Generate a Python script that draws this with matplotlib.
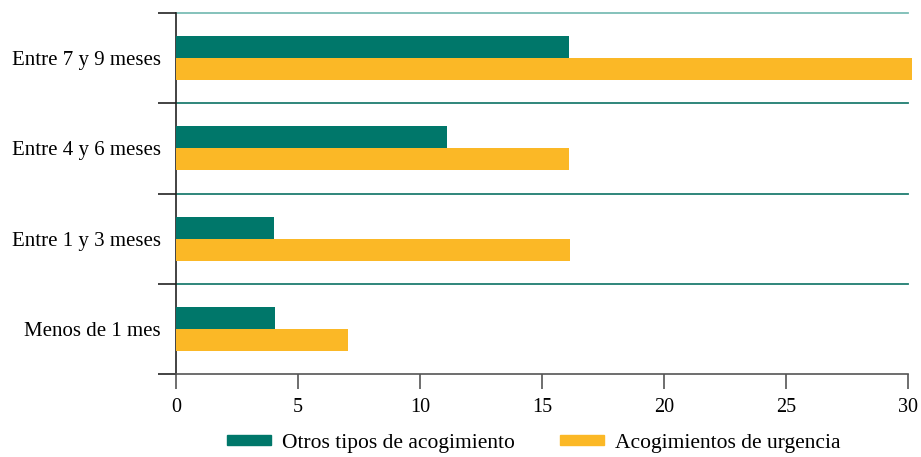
import matplotlib
matplotlib.use("Agg")
import matplotlib.pyplot as plt
import numpy as np
from matplotlib.patches import Patch

categories = ["Menos de 1 mes", "Entre 1 y 3 meses", "Entre 4 y 6 meses", "Entre 7 y 9 meses"]
otros = [4.05, 4.0, 11.1, 16.1]
urgencia = [7.05, 16.15, 16.1, 30.15]
series_names = ["Otros tipos de acogimiento", "Acogimientos de urgencia"]
xticks = [0, 5, 10, 15, 20, 25, 30]

green = "#00776A"
orange = "#FBB826"

plt.rcParams["font.family"] = ["Liberation Serif", "DejaVu Serif"]

fig = plt.figure(figsize=(9.21, 4.57), dpi=100)
ax = fig.add_axes([176/921, (457-374)/457, (908-176)/921, (374-13)/457])

y = np.arange(len(categories))
h = 0.245
b1 = ax.barh(y + h/2, otros, height=h, color=green, zorder=3)
b2 = ax.barh(y - h/2, urgencia, height=h, color=orange, zorder=3)
for r in list(b1) + list(b2):
    r.set_clip_on(False)

ax.set_xlim(0, 30)
ax.set_ylim(-0.5, len(categories) - 0.5)

# boundary gridlines
for yb in np.arange(0.5, len(categories) + 0.5, 1.0):
    col = "#7BBDB5" if yb == len(categories) - 0.5 else "#1F7D71"
    ax.axhline(yb, color=col, lw=1.3, zorder=1, clip_on=False)

ax.set_yticks(y)
ax.set_yticklabels(categories, fontsize=15)
ax.set_yticks(np.arange(-0.5, len(categories), 1.0), minor=True)
ax.tick_params(axis="y", which="major", length=0, pad=11)
ax.tick_params(axis="y", which="minor", length=13, width=1.2, color="#222222")

ax.set_xticks(xticks)
ax.set_xticklabels([str(t) for t in xticks], fontsize=14.5)
ax.tick_params(axis="x", length=11, width=1.2, color="#555555", pad=6)

for s in ["top", "right"]:
    ax.spines[s].set_visible(False)
ax.spines["left"].set_color("#222222")
ax.spines["left"].set_linewidth(1.2)
ax.spines["bottom"].set_color("#555555")
ax.spines["bottom"].set_linewidth(1.2)

handles = [Patch(color=green), Patch(color=orange)]
fig.legend(handles, series_names, loc="center", bbox_to_anchor=(0.58, 0.03), ncol=2,
           frameon=False, fontsize=15.5, handlelength=2.0, handleheight=0.3,
           columnspacing=2.1, handletextpad=0.55, borderpad=0.1)

fig.savefig("out.png", dpi=100)
